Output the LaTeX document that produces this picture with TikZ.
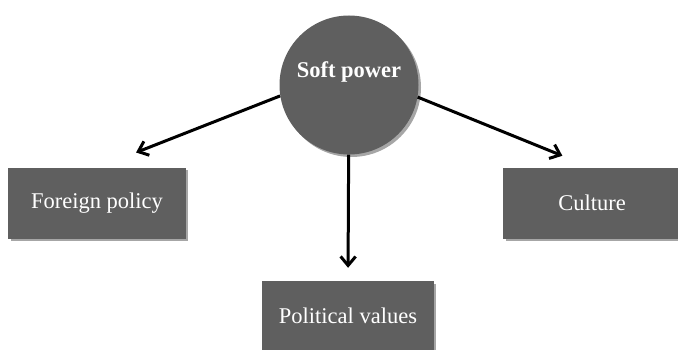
\documentclass[tikz,border=0pt]{standalone}
\usepackage{fontspec}
\setmainfont{Liberation Serif}
\usetikzlibrary{arrows.meta}
\usetikzlibrary{shadows}
\definecolor{boxgray}{RGB}{95,95,95}

\begin{document}
\begin{tikzpicture}[x=1pt,y=-1pt,font=\fontsize{22.5}{26}\selectfont,
	item/.style={draw=boxgray,fill=boxgray,text=white,minimum width=177pt,minimum height=70pt,
		drop shadow={shadow xshift=2.5pt,shadow yshift=-2.5pt,fill=black!35,opacity=1}},
	link/.style={line width=3pt,-{Straight Barb[length=9pt,width=15pt,line width=3pt]}}]
	\useasboundingbox (0,0) rectangle (678,350);
	\node[circle,fill=boxgray,text=white,minimum size=139pt,inner sep=0pt,
		drop shadow={shadow xshift=2.5pt,shadow yshift=-2.5pt,fill=black!35,opacity=1}] (soft) at (349,85) {};
	\node[text=white,font=\fontsize{22.5}{26}\selectfont\bfseries] (softlabel) at (349,72) {Soft power};
	\node[item] (foreign) at (97,203) {Foreign policy};
	\node[item,minimum width=171pt] (political) at (348,316) {Political values};
	\node[item] (culture) at (592,203) {Culture};
	\draw[link,shorten >=42pt] (soft.189) -- (foreign.north);
	\draw[link,shorten >=32pt] (soft.350) -- (culture.north);
	\draw[link,shorten >=13pt] (soft) -- (political.north);
\end{tikzpicture}
\end{document}
